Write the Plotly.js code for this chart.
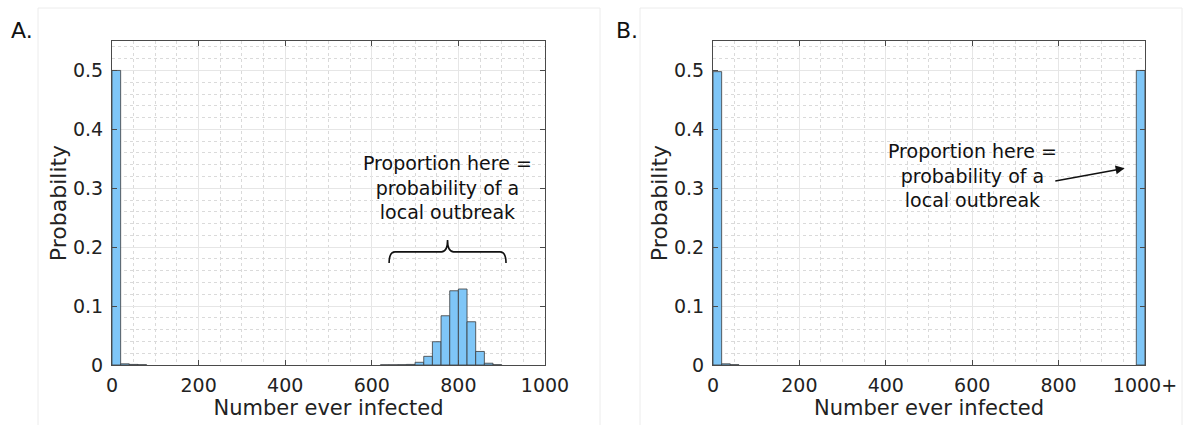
<!DOCTYPE html>
<html>
<head>
<meta charset="utf-8">
<script src="https://cdn.plot.ly/plotly-3.0.1.min.js"></script>
<style>
  html, body { margin: 0; padding: 0; background: #fff; }
  #chart { width: 1185px; height: 425px; }
</style>
</head>
<body>
<div id="chart"></div>
<script>
// ---------- Data ----------
// Panel A: histogram bin centres (bin width 20) and probabilities
const binCentersA = [10, 30, 50, 70, 630, 650, 670, 690, 710, 730, 750, 770, 790, 810, 830, 850, 870, 890];
const probA       = [0.5, 0.002, 0.001, 0.0005, 0.0003, 0.0003, 0.0005, 0.001, 0.0046, 0.0147, 0.0395, 0.0836, 0.126, 0.129, 0.0734, 0.023, 0.003, 0.0005];
// Panel B: outbreaks capped at 1000+
const binCentersB = [10, 30, 50, 990];
const probB       = [0.498, 0.002, 0.0005, 0.5];
const binWidth = 20;

const xTickValsA = [0, 200, 400, 600, 800, 1000];
const xTickTextA = ['0', '200', '400', '600', '800', '1000'];
const xTickValsB = [0, 200, 400, 600, 800, 1000];
const xTickTextB = ['0', '200', '400', '600', '800', '1000+'];
const yTickVals  = [0, 0.1, 0.2, 0.3, 0.4, 0.5];
const yTickText  = ['0', '0.1', '0.2', '0.3', '0.4', '0.5'];

const xTitle = 'Number ever infected';
const yTitle = 'Probability';
const noteText = 'Proportion here =<br>probability of a<br>local outbreak';

// ---------- Styling ----------
const FONT = 'DejaVu Sans, Liberation Sans, Arial, sans-serif';
const barColor = '#7fc6f7';
const barEdge = '#3a3a3a';
const axisColor = '#4a4a4a';

function xAxis(domain, tv, tt, anchor) {
  return {
    domain: domain, anchor: anchor, range: [0, 1000],
    tickvals: tv, ticktext: tt,
    ticks: 'inside', ticklen: 5, tickcolor: axisColor,
    showline: true, linecolor: axisColor, linewidth: 1, mirror: 'ticks',
    showgrid: true, gridcolor: '#e6e6e6', gridwidth: 1,
    minor: { dtick: 50, showgrid: true, gridcolor: '#dadada', griddash: 'dot', gridwidth: 1 },
    zeroline: false, fixedrange: true,
    tickfont: { family: FONT, size: 19, color: '#222' },
    ticklabelstandoff: 3,
    title: { text: xTitle, font: { family: FONT, size: 21, color: '#222' }, standoff: 4 },
    automargin: false
  };
}
function yAxis(anchor) {
  return {
    anchor: anchor, range: [0, 0.55],
    tickvals: yTickVals, ticktext: yTickText,
    ticks: 'inside', ticklen: 5, tickcolor: axisColor,
    showline: true, linecolor: axisColor, linewidth: 1, mirror: 'ticks',
    showgrid: true, gridcolor: '#e6e6e6', gridwidth: 1,
    minor: { dtick: 0.02, showgrid: true, gridcolor: '#dadada', griddash: 'dot', gridwidth: 1 },
    zeroline: false, fixedrange: true,
    tickfont: { family: FONT, size: 19, color: '#222' },
    ticklabelstandoff: 4,
    title: { text: yTitle, font: { family: FONT, size: 22, color: '#222' }, standoff: 0 },
    automargin: false
  };
}

const traces = [
  {
    type: 'bar', x: binCentersA, y: probA, width: binCentersA.map(() => binWidth),
    xaxis: 'x', yaxis: 'y',
    marker: { color: barColor, line: { color: barEdge, width: 0.8 } },
    hoverinfo: 'x+y', showlegend: false
  },
  {
    type: 'bar', x: binCentersB, y: probB, width: binCentersB.map(() => binWidth),
    xaxis: 'x2', yaxis: 'y2',
    marker: { color: barColor, line: { color: barEdge, width: 0.8 } },
    hoverinfo: 'x+y', showlegend: false
  }
];

const layout = {
  width: 1185, height: 425,
  margin: { l: 0, r: 0, t: 41, b: 60 },
  paper_bgcolor: '#fff', plot_bgcolor: '#fff',
  font: { family: FONT, color: '#222' },
  bargap: 0,
  xaxis:  xAxis([0.0945, 0.4599], xTickValsA, xTickTextA, 'y'),
  yaxis:  yAxis('x'),
  xaxis2: xAxis([0.6017, 0.9662], xTickValsB, xTickTextB, 'y2'),
  yaxis2: yAxis('x2'),
  shapes: [
    // faint panel frames
    { type: 'rect', xref: 'paper', yref: 'paper', x0: 38/1185, x1: 600/1185, y0: -0.3, y1: 1 + 33/324,
      line: { color: '#ececec', width: 1 }, layer: 'below' },
    { type: 'rect', xref: 'paper', yref: 'paper', x0: 640/1185, x1: 1182/1185, y0: -0.3, y1: 1 + 33/324,
      line: { color: '#ececec', width: 1 }, layer: 'below' },
    // curly brace over the outbreak cluster
    { type: 'path', xref: 'x', yref: 'y',
      path: 'M 640,0.173 Q 640,0.192 654,0.192 L 761,0.192 Q 775,0.192 775,0.212 Q 775,0.192 789,0.192 L 896,0.192 Q 910,0.192 910,0.173',
      line: { color: '#111', width: 1.6 } }
  ],
  annotations: [
    { text: 'A.', xref: 'paper', yref: 'paper', x: 22/1185, y: 1 + 11/324, xanchor: 'center', yanchor: 'middle',
      showarrow: false, font: { family: FONT, size: 22, color: '#111' } },
    { text: 'B.', xref: 'paper', yref: 'paper', x: 627/1185, y: 1 + 11/324, xanchor: 'center', yanchor: 'middle',
      showarrow: false, font: { family: FONT, size: 22, color: '#111' } },
    { text: noteText, xref: 'x', yref: 'y', x: 775, y: 0.302, xanchor: 'center', yanchor: 'middle',
      showarrow: false, align: 'center', font: { family: FONT, size: 19, color: '#111' } },
    { text: noteText, xref: 'x2', yref: 'y2', x: 600, y: 0.321, xanchor: 'center', yanchor: 'middle',
      showarrow: false, align: 'center', font: { family: FONT, size: 19, color: '#111' } },
    { text: '', xref: 'x2', yref: 'y2', x: 953, y: 0.334, axref: 'x2', ayref: 'y2', ax: 789, ay: 0.312,
      showarrow: true, arrowhead: 2, arrowsize: 1.2, arrowwidth: 1.5, arrowcolor: '#111' }
  ]
};

Plotly.newPlot('chart', traces, layout, { displayModeBar: false, staticPlot: true });
</script>
</body>
</html>
